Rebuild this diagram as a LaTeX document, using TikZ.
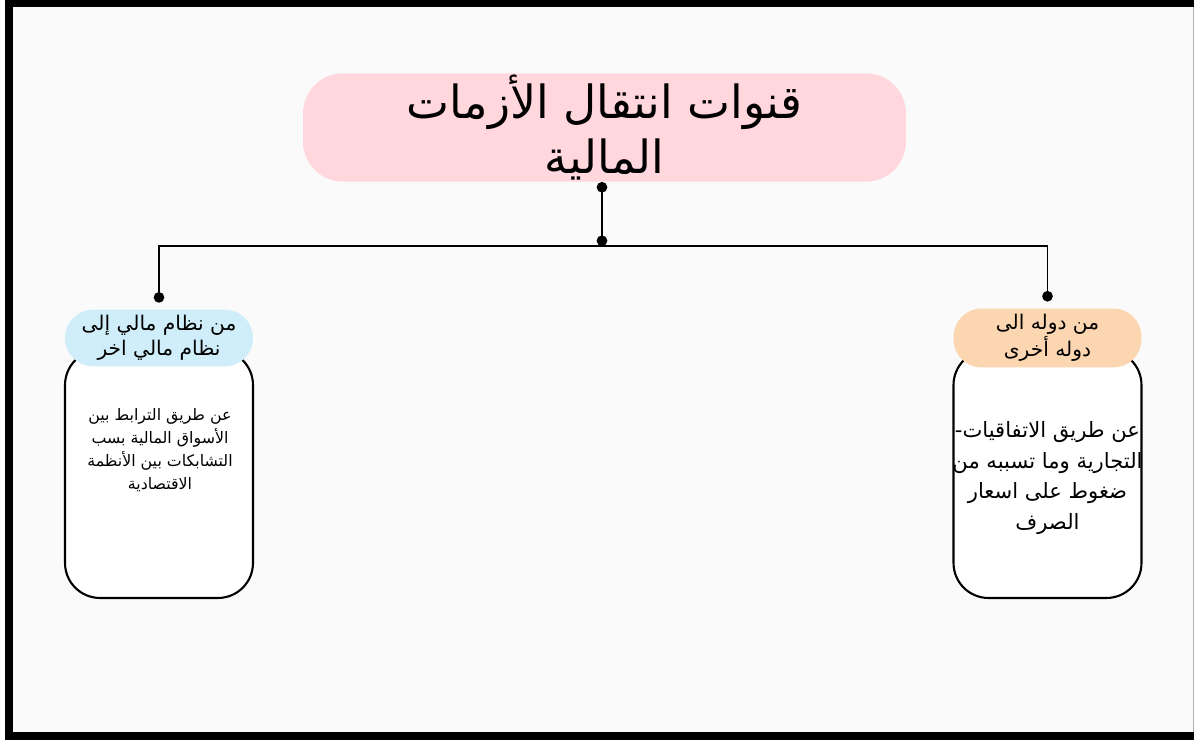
\documentclass[tikz,border=0pt]{standalone}
\usepackage{fontspec}
\newfontfamily\arabicfont[Script=Arabic]{DejaVu Sans}
\TeXXeTstate=1
\usepackage{xcolor}
\definecolor{Blush}{HTML}{FFD7DD}
\definecolor{Sky}{HTML}{CFEEFA}
\definecolor{Peach}{HTML}{FCD6B1}
\definecolor{Paper}{HTML}{FAFAFA}
\usetikzlibrary{positioning, arrows.meta}
\newcommand{\arline}[1]{\beginR #1\endR}
\tikzset{
	node distance = 1em,
	line width = 1pt,
	title/.style={
		fill=Blush,
		rounded corners=.8cm,
		inner sep=1pt,
		minimum width=12.06cm,
		minimum height=2.1cm,
		align=center,
		font=\arabicfont\fontsize{26}{31}\selectfont
	},
	head/.style={
		rounded corners=.56cm,
		minimum width=3.76cm,
		minimum height=1.12cm,
		outer sep=4pt,
		align=center,
		font=\arabicfont\fontsize{11.5}{14}\selectfont
	},
	body/.style={
		draw,
		fill=white,
		line width=1.2pt,
		rounded corners=.7cm,
		minimum width=3.76cm,
		minimum height=4.96cm
	},
	link/.style={
		{Circle[length=6pt]}-{Circle[length=6pt]},
		line width=1.1pt
	},
	branch/.style={
		-{Circle[length=6pt]},
		line width=1.1pt
	}
}

\begin{document}
\begin{tikzpicture}[x=0.02cm, y=-0.02cm]
	% page and frame
	\useasboundingbox (0,0) rectangle (1197,742);
	\fill[black] (5,0) rectangle (1194,740);
	\fill[Paper] (13,7) rectangle (1193,732);
	\draw[gray!60, line width=.6pt] (1193.5,7) -- (1193.5,732);

	% top
	\node[title] (title) at (604.5,127.5)
		{\arline{قنوات انتقال الأزمات}\\\arline{المالية}};
	\coordinate (hub) at (602,246);

	% left column
	\node[body] (lbody) at (159,474) {};
	\node[head, fill=Sky] (lhead) at (159,338)
		{\arline{من نظام مالي إلى}\\\arline{نظام مالي اخر}};
	\node[align=center, font=\arabicfont\fontsize{9}{13}\selectfont] (ltext) at (160,450)
		{\arline{عن طريق الترابط بين}\\\arline{الأسواق المالية بسب}\\\arline{التشابكات بين الأنظمة}\\\arline{الاقتصادية}};

	% right column
	\node[body] (rbody) at (1047.5,474) {};
	\node[head, fill=Peach] (rhead) at (1047.5,338)
		{\arline{من دوله الى}\\\arline{دوله أخرى}};
	\node[align=center, font=\arabicfont\fontsize{12}{17.5}\selectfont] (rtext) at (1047.5,478)
		{\arline{عن طريق الاتفاقيات-}\\\arline{التجارية وما تسببه من}\\\arline{ضغوط على اسعار}\\\arline{الصرف}};

	% connectors
	\draw[link] (title.south -| hub) -- (hub);
	\draw[branch] (hub) -| (lhead);
	\draw[branch] (hub) -| (rhead);
\end{tikzpicture}
\end{document}
